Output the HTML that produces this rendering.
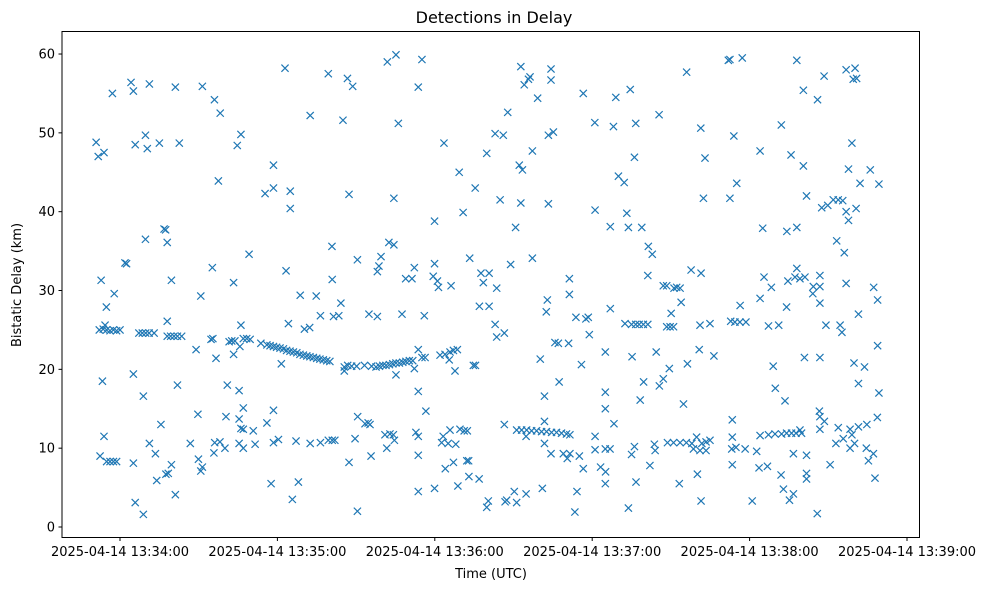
<!DOCTYPE html>
<html><head><meta charset="utf-8"><style>
html,body{margin:0;padding:0;background:#fff;}
svg{display:block;font-family:"DejaVu Sans","Liberation Sans",sans-serif;}
</style></head><body>
<svg id="chart" width="988" height="590" viewBox="0 0 988 590">
<rect x="0" y="0" width="988" height="590" fill="#fff"/>
<text x="494" y="23" text-anchor="middle" font-size="16" fill="#000">Detections in Delay</text>
<g id="marks"></g>
<g id="axes"></g>
<rect x="62" y="31.5" width="857.5" height="506" fill="none" stroke="#000" stroke-width="1"/>
<text x="491" y="578" text-anchor="middle" font-size="13" fill="#000">Time (UTC)</text>
<text x="0" y="0" transform="translate(21,285) rotate(-90)" text-anchor="middle" font-size="13" fill="#000">Bistatic Delay (km)</text>
</svg>
<script>
// seconds after 2025-04-14 13:34:00 UTC, bistatic delay km
const detections = [
[-2.9,55.0],[4.2,56.4],[5.1,55.3],[11.2,56.2],[21.1,55.8],[31.4,55.9],[36.0,54.2],[38.2,52.5],[-9.1,48.8],[-8.3,47.0],[-6.1,47.5],[5.8,48.5],[9.7,49.7],[10.4,48.0],[15.0,48.7],[22.6,48.7],[37.5,43.9],[16.8,37.8],[17.4,37.7],[9.7,36.5],[18.0,36.1],[1.9,33.5],[2.5,33.4],[35.2,32.9],[-7.2,31.3],[19.6,31.3],[-2.2,29.6],[30.8,29.3],[-5.2,27.9],[18.0,26.1],[-5.7,25.6],
[-7.9,25.0],[-6.4,25.1],[-5.1,25.0],[-3.8,24.9],[-2.5,25.0],[-1.3,24.9],[0,25.0],[7.2,24.6],[8.5,24.6],[9.8,24.6],[11.1,24.6],[13.0,24.6],[18.0,24.2],[19.3,24.2],[20.6,24.2],[21.9,24.2],[23.5,24.2],[34.7,23.8],[35.4,23.9],[41.6,23.5],[29.0,22.5],[36.6,21.4],
[-6.7,18.5],[5.1,19.4],[8.9,16.6],[21.9,18.0],[40.9,18.0],[29.7,14.3],[40.4,14.0],[15.6,13.0],[-6.1,11.5],[11.2,10.6],[26.8,10.6],[36.1,10.7],[38.1,10.8],[40.0,10.0],[13.5,9.3],[35.8,9.4],[-7.6,9.0],[-5.1,8.3],[-3.8,8.3],[-2.5,8.3],[-1.3,8.3],[5.1,8.1],[29.9,8.6],[31.4,7.6],[30.8,7.1],[19.6,7.9],[17.5,6.7],[18.4,6.8],[14.0,5.9],[21.1,4.1],[5.8,3.1],[8.9,1.6],
[62.9,58.2],[79.4,57.5],[86.7,56.9],[88.7,55.9],[72.5,52.2],[85.0,51.6],[46.1,49.8],[44.7,48.4],[58.5,45.9],[55.3,42.3],[58.5,43.0],[64.9,42.6],[64.9,40.4],[87.3,42.2],[80.8,35.6],[49.2,34.6],[90.5,33.9],[63.3,32.5],[80.9,31.4],[43.3,31.0],[68.7,29.4],[74.8,29.3],[84.2,28.4],[76.4,26.8],[81.4,26.7],[83.4,26.8],[94.9,27.0],[46.1,25.6],[64.2,25.8],[70.3,25.1],[72.3,25.3],[43.3,21.9],[45.7,22.9],[42.6,23.6],[43.8,23.6],[47.0,23.9],[48.3,23.9],[49.6,23.8],[53.7,23.3],
[56.0,23.1],[57.2,23.0],[58.5,22.9],[59.7,22.8],[61.0,22.7],[62.3,22.6],[63.5,22.4],[64.8,22.3],[66.1,22.2],[67.4,22.1],[68.6,21.9],[69.9,21.8],[71.2,21.7],[72.4,21.6],[73.7,21.5],[75.0,21.4],[76.2,21.3],[77.5,21.2],[78.8,21.1],[80.0,21.0],
[61.5,20.7],[85.5,20.3],[86.8,20.5],[88.3,20.4],[90.2,20.4],[93.2,20.5],[95.9,20.4],[85.5,19.8],[45.4,17.3],[47.0,15.1],[58.5,14.8],[45.4,13.7],[56.0,13.2],[46.1,12.5],[47.0,12.4],[50.8,12.2],[90.6,14.0],[93.4,13.1],[94.6,13.2],[95.3,13.0],[45.4,10.6],[47.0,10.0],[51.5,10.5],[58.5,10.7],[60.4,11.1],[67.1,10.9],[72.5,10.6],[76.4,10.7],[79.4,11.0],[80.9,11.0],[81.9,11.0],[89.6,11.2],[87.3,8.2],[95.7,9.0],[57.6,5.5],[68.0,5.7],[65.7,3.5],[90.5,2.0],
[101.9,59.0],[105.2,59.9],[115.1,59.3],[113.7,55.8],[106.1,51.2],[123.5,48.7],[139.8,47.4],[147.8,52.6],[143.0,49.9],[146.1,49.7],[152.8,58.4],[152.2,45.9],[152.8,41.1],[129.3,45.0],[135.4,43.0],[104.4,41.7],[144.9,41.5],[130.8,39.9],[119.9,38.8],[150.8,38.0],[102.5,36.1],[104.4,35.8],[99.5,34.3],[98.7,33.1],[98.1,32.4],[112.2,32.9],[119.9,33.4],[133.3,34.1],[148.9,33.3],[108.9,31.5],[111.3,31.5],[119.4,31.8],[121.0,31.2],[121.4,30.4],[126.2,30.6],[137.6,32.2],[140.7,32.2],[138.5,31.0],[143.6,30.3],[98.1,26.7],[107.5,27.0],[116.0,26.8],[137.0,28.0],[140.7,28.0],[143.0,25.7],[143.6,24.1],[146.5,24.6],
[97.6,20.3],[98.9,20.4],[100.2,20.5],[101.4,20.5],[102.7,20.6],[104.0,20.7],[105.2,20.8],[106.5,20.8],[107.8,20.9],[109.0,21.0],[110.3,21.1],[111.6,21.1],
[105.2,19.3],[113.7,22.5],[112.2,20.1],[115.1,21.5],[116.3,21.5],[122.0,21.8],[123.9,21.9],[125.8,22.2],[127.1,22.4],[128.6,22.5],[125.5,21.2],[127.7,19.8],[134.7,20.5],[135.5,20.5],[113.7,17.2],[116.6,14.7],[101.0,11.7],[102.9,11.8],[104.2,11.7],[104.6,11.0],[101.7,10.0],[112.8,12.0],[113.7,11.5],[113.7,9.1],[125.8,12.3],[123.2,11.5],[122.6,10.7],[125.1,10.6],[128.0,10.5],[129.6,12.4],[131.2,12.2],[132.4,12.2],[132.2,8.4],[132.9,8.4],[127.1,8.2],[124.0,7.4],[146.5,13.0],[151.2,12.3],[133.0,6.4],[136.9,6.1],[113.7,4.5],[119.9,4.9],[128.8,5.2],[140.4,3.3],[139.8,2.5],[147.4,3.4],[146.8,3.2],[150.3,4.5],[151.2,3.1],
[156.3,57.1],[155.7,56.8],[154.1,56.1],[164.3,58.1],[164.3,56.7],[159.2,54.4],[176.6,55.0],[189.0,54.5],[194.5,55.5],[205.5,52.3],[181.0,51.3],[188.1,50.8],[196.6,51.2],[163.3,49.7],[165.2,50.1],[157.2,47.7],[196.1,46.9],[153.4,45.3],[190.0,44.5],[192.2,43.7],[163.3,41.0],[181.1,40.2],[193.2,39.8],[186.9,38.1],[193.8,38.0],[198.9,38.0],[157.2,34.1],[201.4,35.6],[202.9,34.6],[201.2,31.9],[207.1,30.6],[171.3,31.5],[171.3,29.5],[162.9,28.8],[162.5,27.3],[173.8,26.6],[177.6,26.4],[178.5,26.6],[186.9,27.7],[178.9,24.4],
[192.5,25.8],[195.0,25.7],[196.6,25.7],[197.9,25.7],[199.5,25.7],[201.2,25.7],[165.8,23.4],[167.1,23.3],[171.0,23.3],[160.2,21.3],[175.9,20.6],[185.0,22.2],[195.2,21.6],[204.4,22.2],[167.4,18.4],[199.6,18.4],[205.6,17.9],[207.1,18.8],[161.8,16.6],[185.0,17.1],[185.0,15.0],[188.3,13.1],[198.3,16.1],[161.8,13.4],
[153.1,12.3],[155.0,12.3],[156.9,12.2],[158.8,12.2],[160.7,12.1],[162.6,12.1],[164.5,12.0],[166.4,12.0],[168.3,11.9],[170.2,11.8],[171.5,11.7],
[154.8,11.5],[161.8,10.6],[181.1,11.5],[181.1,9.8],[185.0,9.9],[186.8,9.9],[164.3,9.3],[169.0,9.3],[170.5,8.7],[171.5,9.3],[175.1,9.0],[176.6,7.4],[183.2,7.6],[185.1,7.0],[185.0,5.5],[196.1,10.2],[195.0,9.2],[203.7,10.5],[204.0,9.7],[202.0,7.8],[196.7,5.7],[154.8,4.2],[161.0,4.9],[174.2,4.5],[173.4,1.9],[193.8,2.4],
[216.0,57.7],[231.9,59.2],[232.5,59.3],[237.2,59.5],[258.0,59.2],[260.5,55.4],[221.4,50.6],[234.0,49.6],[252.1,51.0],[223.0,46.8],[244.0,47.7],[255.8,47.2],[260.5,45.8],[235.1,43.6],[222.4,41.7],[232.5,41.7],[261.7,42.0],[245.0,37.9],[254.2,37.5],[258.0,38.0],[217.7,32.6],[221.5,32.2],[258.0,32.8],[257.3,31.7],[259.2,31.5],[261.1,31.7],[208.4,30.6],[211.2,30.3],[212.2,30.4],[213.5,30.3],[245.5,31.7],[254.6,31.2],[248.3,30.4],[210.1,27.1],[213.9,28.5],[236.4,28.1],[244.0,29.0],[254.1,27.9],[208.4,25.4],[209.7,25.4],[211.0,25.4],[221.1,25.6],[224.9,25.8],[232.8,26.1],[234.4,26.0],[236.3,26.0],[238.6,26.0],[247.2,25.5],[251.1,25.6],
[220.8,22.5],[226.4,21.7],[216.3,20.7],[209.4,20.1],[260.9,21.5],[249.0,20.4],[249.8,17.6],[253.5,16.0],[214.8,15.6],[233.4,13.6],[233.4,11.4],
[208.7,10.7],[211.0,10.7],[213.5,10.7],[215.9,10.7],[218.0,10.6],[219.8,11.4],[221.8,10.6],[223.4,10.8],[224.9,11.0],[218.6,9.9],[221.1,9.7],[223.4,9.7],[233.2,9.9],[234.8,10.1],[238.3,9.9],[242.7,9.6],[233.4,7.9],
[244.0,11.6],[247.2,11.7],[249.7,11.8],[252.2,11.8],[254.1,11.9],[256.0,11.9],[257.7,11.9],[259.2,12.3],[259.8,11.9],
[256.7,9.3],[261.7,9.1],[243.6,7.5],[246.8,7.7],[252.0,6.6],[220.1,6.7],[213.2,5.5],[252.9,4.8],[256.7,4.2],[255.2,3.4],[261.7,6.8],[261.7,6.1],[221.5,3.3],[241.0,3.3],
[268.4,57.2],[265.9,54.2],[276.8,58.0],[280.2,58.2],[279.5,56.8],[280.8,56.9],[279.0,48.7],[277.7,45.4],[286.0,45.3],[282.1,43.6],[289.3,43.5],[267.5,40.5],[269.8,40.8],[271.9,41.5],[273.8,41.5],[275.5,41.4],[276.8,40.0],[277.7,38.9],[280.6,40.4],[273.2,36.3],[276.1,34.8],[266.8,31.9],[264.3,30.5],[264.1,29.6],[266.8,30.5],[266.8,28.4],[276.8,30.9],[287.3,30.4],[288.8,28.8],[281.5,27.0],[269.1,25.6],[274.5,25.6],[275.2,24.7],[288.8,23.0],[266.8,21.5],[279.8,20.8],[283.8,20.3],[281.5,18.2],[289.3,17.0],[266.6,14.7],[266.8,14.0],[268.5,13.4],[266.8,12.4],[273.8,12.6],[272.9,10.6],[275.7,11.2],[278.3,12.4],[279.0,11.7],[278.3,10.0],[280.0,10.6],[281.5,12.7],[284.7,13.0],[288.7,13.9],[284.5,10.0],[285.3,8.4],[287.2,9.3],[270.7,7.9],[287.8,6.2],[265.8,1.7]
];
const yTicks = [0,10,20,30,40,50,60];
const xTicks = [0,60,120,180,240,300];
const xTickLabels = ["2025-04-14 13:34:00","2025-04-14 13:35:00","2025-04-14 13:36:00","2025-04-14 13:37:00","2025-04-14 13:38:00","2025-04-14 13:39:00"];

const NS = "http://www.w3.org/2000/svg";
function xs(t){ return 120 + t * 2.6233; }
function ys(d){ return 527 - d * 7.883; }

const marks = document.getElementById('marks');
detections.forEach(function(p, i){
  const x = xs(p[0]), y = ys(p[1]), r = 3.6;
  const path = document.createElementNS(NS, 'path');
  path.setAttribute('d', 'M'+(x-r)+','+(y-r)+'L'+(x+r)+','+(y+r)+'M'+(x-r)+','+(y+r)+'L'+(x+r)+','+(y-r));
  path.setAttribute('stroke', '#1f77b4');
  path.setAttribute('stroke-width', '1.2');
  path.setAttribute('fill', 'none');
  
  
  marks.appendChild(path);
});

const axes = document.getElementById('axes');
yTicks.forEach(function(v){
  const y = ys(v);
  const ln = document.createElementNS(NS, 'line');
  ln.setAttribute('x1', 58.5); ln.setAttribute('x2', 62); ln.setAttribute('y1', y); ln.setAttribute('y2', y);
  ln.setAttribute('stroke', '#000');
  
  
  axes.appendChild(ln);
  const tx = document.createElementNS(NS, 'text');
  tx.setAttribute('x', 55); tx.setAttribute('y', y + 4.5);
  tx.setAttribute('text-anchor', 'end'); tx.setAttribute('font-size', '13');
  tx.textContent = v;
  
  
  axes.appendChild(tx);
});
xTicks.forEach(function(v, i){
  const x = xs(v);
  const ln = document.createElementNS(NS, 'line');
  ln.setAttribute('x1', x); ln.setAttribute('x2', x); ln.setAttribute('y1', 537.5); ln.setAttribute('y2', 541);
  ln.setAttribute('stroke', '#000');
  
  
  axes.appendChild(ln);
  const tx = document.createElementNS(NS, 'text');
  tx.setAttribute('x', x); tx.setAttribute('y', 556);
  tx.setAttribute('text-anchor', 'middle'); tx.setAttribute('font-size', '13');
  tx.textContent = xTickLabels[i];
  
  
  axes.appendChild(tx);
});
</script>
</body></html>
